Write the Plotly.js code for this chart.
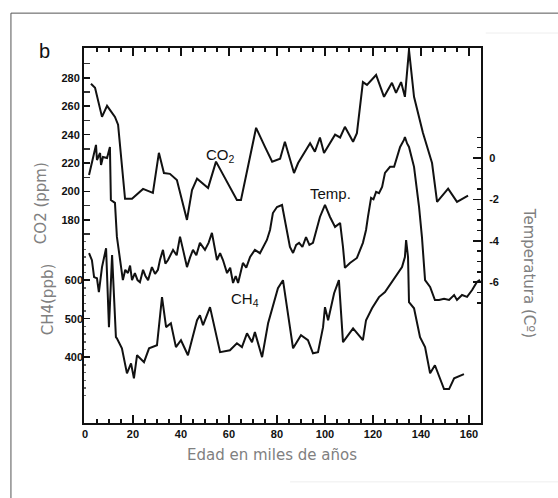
<!DOCTYPE html>
<html>
<head>
<meta charset="utf-8">
<script src="https://cdn.plot.ly/plotly-3.0.1.min.js"></script>
<style>html,body{margin:0;padding:0;background:#fff;}#chart{width:558px;height:498px;}</style>
</head>
<body>
<div id="chart"></div>
<script>
// ---- data (ages in thousands of years) ----
const co2Age = [2.5,4.2,7.1,9.2,12.5,13.8,16.7,19.6,24.2,28.3,30.8,32.9,35.4,38.3,42.5,44.6,46.7,51.3,54.6,63.3,65,71.3,75,78,81.3,83.3,87.1,88.8,93.8,95.8,97.9,99.6,104.2,106.3,108.3,111.7,113.3,115.8,117.5,121.3,124.6,127.9,129.6,131.7,133.3,135,137.1,140.8,144.6,146.7,151.3,155,159.6];
const co2Val = [275.8,273,252.5,260.3,252.5,247,194.8,194.8,201.8,199,227.2,213,212.4,208,180,201,209,202.5,221,194,194,244.8,231.4,221,223,235,213,220,234,228,238,227,240,238,245.5,235,241,277,275,282,266.6,276.5,269.4,277,266.6,299.7,266.6,241.3,220,192.7,202,192.7,197];

const tempAge = [1.7,2.5,3.3,4.6,5.0,6.3,6.7,7.5,9.2,10.4,10.8,12.5,13.3,14.6,15.8,16.8,17.9,18.8,19.6,20.8,21.9,22.9,24.2,25.2,26.3,27.9,29.2,30.4,31.3,32.5,33.5,34.6,36.7,38.2,39.6,41,42.5,43.8,45,46.4,47.9,50,51.5,52.9,55,56.3,57.5,59.2,60.5,61.7,62.8,63.8,65.8,67.2,68.8,70.8,72.9,75.8,77.1,78.3,80,82.1,84.2,85.4,86.7,88,89.2,90.6,92.1,93.5,95,97.9,100,102.1,104.2,106.3,107.5,108.3,110.4,113.3,115.8,117.1,117.9,119.2,120.2,121.3,122.5,123.8,125,127.1,128.8,130,131.3,132.9,133.3,134.2,135,137.1,139.2,140.4,141.7,143.8,145.8,147.5,149.6,151.7,153.8,155,157.1,159.2,161.3,163.3,164.6];
const tempVal = [-0.82,-0.43,0,0.63,-0.1,0.24,-0.34,0.05,0,0.53,-2.03,-2.17,-3.8,-4.9,-5.9,-5.4,-5.56,-5.2,-5.9,-5.56,-5.9,-6.0,-5.4,-5.7,-5.9,-5.27,-5.6,-5.4,-4.9,-4.44,-5.1,-4.93,-4.44,-4.7,-3.8,-4.5,-5.27,-4.8,-4.44,-4.7,-4.1,-4.44,-4.1,-3.62,-4.93,-4.6,-4.93,-5.56,-5.3,-6.04,-5.7,-6.04,-5.07,-5.3,-4.78,-4.44,-4.6,-3.96,-3.48,-2.66,-2.37,-2.27,-3.62,-4.3,-4.59,-4.2,-4.1,-4.3,-3.82,-4.2,-4.1,-2.85,-2.27,-2.85,-3.33,-3.14,-4.3,-5.31,-5.07,-4.83,-4.1,-3.48,-2.85,-1.93,-2.0,-1.64,-1.7,-1.4,-0.72,-0.43,-0.43,0.05,0.53,0.87,1.01,0.7,0.53,-0.43,-2.37,-3.82,-5.9,-6.23,-6.86,-6.86,-6.8,-6.86,-6.62,-6.86,-6.62,-6.71,-6.38,-5.99,-5.89];

const ch4Age = [1.7,2.9,3.8,5.0,5.8,7.1,8.8,10,11.3,12.9,13.3,15.4,17.5,19.2,20.4,21.7,24.6,26.7,30,32.1,33.8,35.8,37.9,40,42.9,46.7,47.9,49.2,52.1,54.2,56.3,60.4,63.3,65.4,67.5,69.6,70.8,73.8,76.3,80.4,82.5,86.7,90,92.9,95,97.1,99.2,100,101.3,103.8,105.8,107.5,111.7,115.8,117.1,119.6,122.5,125,127.9,132.1,133.3,133.8,134.6,135,137.1,139.6,141.7,143.8,145.8,149.6,151.7,153.8,157.9];
const ch4Val = [670,652,608,605,569,634,683,478,665,452,449,423,358,384,345,405,387,423,431,556,478,488,426,444,405,496,509,483,530,470,413,418,436,426,462,439,465,400,488,579,600,423,457,444,410,413,478,530,496,566,600,439,475,444,496,527,556,569,595,634,660,704,660,543,527,452,426,358,379,317,317,345,356];

// tick labels
const xTicks = [0,20,40,60,80,100,120,140,160];
const xTickText = ['0','20','40','60','80','100','120','140','160'];
const co2Ticks = [180,200,220,240,260,280];
const co2TickText = ['180','200','220','240','260','280'];
const ch4Ticks = [400,500,600];
const ch4TickText = ['400','500','600'];
const tempTicks = [0,-2,-4,-6];
const tempTickText = ['0','-2','-4','-6'];
const co2Minor = [170,190,210,230,250,270,290];
const ch4Minor = [300,320,340,360,380,420,440,460,480,520,540,560,580,620,640,660,680,700];
const tempMinor = [1,0.5,-0.5,-1,-1.5,-2.5,-3,-3.5,-4.5,-5,-5.5,-6.5,-7];

const bold = arr => arr.map(t => '<b>' + t + '</b>');

const lineStyle = {color:'#111', width:2};
const traces = [
  {x:co2Age, y:co2Val, type:'scatter', mode:'lines', line:lineStyle, yaxis:'y', hoverinfo:'skip'},
  {x:tempAge, y:tempVal, type:'scatter', mode:'lines', line:lineStyle, yaxis:'y3', hoverinfo:'skip'},
  {x:ch4Age, y:ch4Val, type:'scatter', mode:'lines', line:lineStyle, yaxis:'y2', hoverinfo:'skip'}
];

const tickFont = {family:'Liberation Sans, Arial, sans-serif', size:11, color:'#111'};
const titleFont = {family:'DejaVu Sans, Verdana, sans-serif', size:15, color:'#808080'};
const labelFont = {family:'Liberation Sans, Arial, sans-serif', size:15, color:'#111'};

const layout = {
  width:558, height:498,
  margin:{l:84, r:77, t:48, b:75},
  paper_bgcolor:'#fff', plot_bgcolor:'#fff',
  showlegend:false,
  xaxis:{range:[-0.4,165], showgrid:false, zeroline:false, showline:true, linecolor:'#111', linewidth:2,
         mirror:'ticks', ticks:'inside', ticklen:8, tickwidth:1.5, tickcolor:'#111',
         tickmode:'array', tickvals:xTicks, ticktext:bold(xTickText), tickfont:tickFont,
         minor:{ticks:'inside', ticklen:4, dtick:5, tick0:0, tickcolor:'#111', tickwidth:1.5, showgrid:false}},
  yaxis:{range:[37,301], showgrid:false, zeroline:false, showline:true, linecolor:'#111', linewidth:2,
         ticks:'inside', ticklen:6, tickwidth:1.5, tickcolor:'#111', tickmode:'array', tickvals:co2Ticks, ticktext:bold(co2TickText), tickfont:tickFont,
         minor:{ticks:'inside', ticklen:6, tickmode:'array', tickvals:co2Minor, tickcolor:'#333', tickwidth:1.5, showgrid:false}},
  yaxis2:{range:[229,1203], overlaying:'y', side:'left', showgrid:false, zeroline:false, showline:false,
         ticks:'inside', ticklen:6, tickwidth:1.5, tickcolor:'#111', tickmode:'array', tickvals:ch4Ticks, ticktext:bold(ch4TickText), tickfont:tickFont,
         minor:{ticks:'inside', ticklen:2, tickmode:'array', tickvals:ch4Minor, tickcolor:'#666', tickwidth:1.5, showgrid:false}},
  yaxis3:{range:[-12.8,5.31], overlaying:'y', side:'right', showgrid:false, zeroline:false, showline:true, linecolor:'#111', linewidth:2,
         ticks:'inside', ticklen:8, tickwidth:1.5, tickcolor:'#111', tickmode:'array', tickvals:tempTicks, ticktext:bold(tempTickText), tickfont:tickFont,
         ticklabelstandoff:4,
         minor:{ticks:'inside', ticklen:4, tickmode:'array', tickvals:tempMinor, tickcolor:'#111', tickwidth:1.5, showgrid:false}},
  shapes:[
    {type:'line', xref:'paper', yref:'paper', x0:-0.184, x1:1.3, y0:1.093, y1:1.093, line:{color:'#555', width:1}},
    {type:'line', xref:'paper', yref:'paper', x0:-0.184, x1:-0.184, y0:-0.3, y1:1.093, line:{color:'#555', width:1}},
    {type:'line', xref:'paper', yref:'paper', x0:1.012, x1:1.3, y0:1.04, y1:1.04, line:{color:'#eeeeee', width:1}},
    {type:'line', xref:'paper', yref:'paper', x0:0.519, x1:1.3, y0:-0.157, y1:-0.157, line:{color:'#eeeeee', width:1}}
  ],
  annotations:[
    {text:'b', xref:'paper', yref:'paper', x:-0.118, y:1.027, showarrow:false, font:{family:'Liberation Sans, Arial, sans-serif', size:20, color:'#111'}},
    {text:'CO2 (ppm)', xref:'paper', yref:'paper', x:-0.136, y:0.701, textangle:-90, showarrow:false, font:titleFont},
    {text:'CH4(ppb)', xref:'paper', yref:'paper', x:-0.118, y:0.229, textangle:-90, showarrow:false, font:titleFont},
    {text:'Temperatura (Cº)', xref:'paper', yref:'paper', x:1.149, y:0.4, textangle:90, showarrow:false, font:titleFont},
    {text:'Edad en miles de años', xref:'paper', yref:'paper', x:0.474, y:-0.115, showarrow:false, font:titleFont},
    {text:'CO<sub>2</sub>', xref:'paper', yref:'paper', x:0.345, y:0.745, showarrow:false, font:labelFont},
    {text:'Temp.', xref:'paper', yref:'paper', x:0.622, y:0.613, showarrow:false, font:labelFont},
    {text:'CH<sub>4</sub>', xref:'paper', yref:'paper', x:0.406, y:0.298, showarrow:false, font:labelFont}
  ]
};

Plotly.newPlot('chart', traces, layout, {staticPlot:true, displayModeBar:false});
</script>
</body>
</html>
